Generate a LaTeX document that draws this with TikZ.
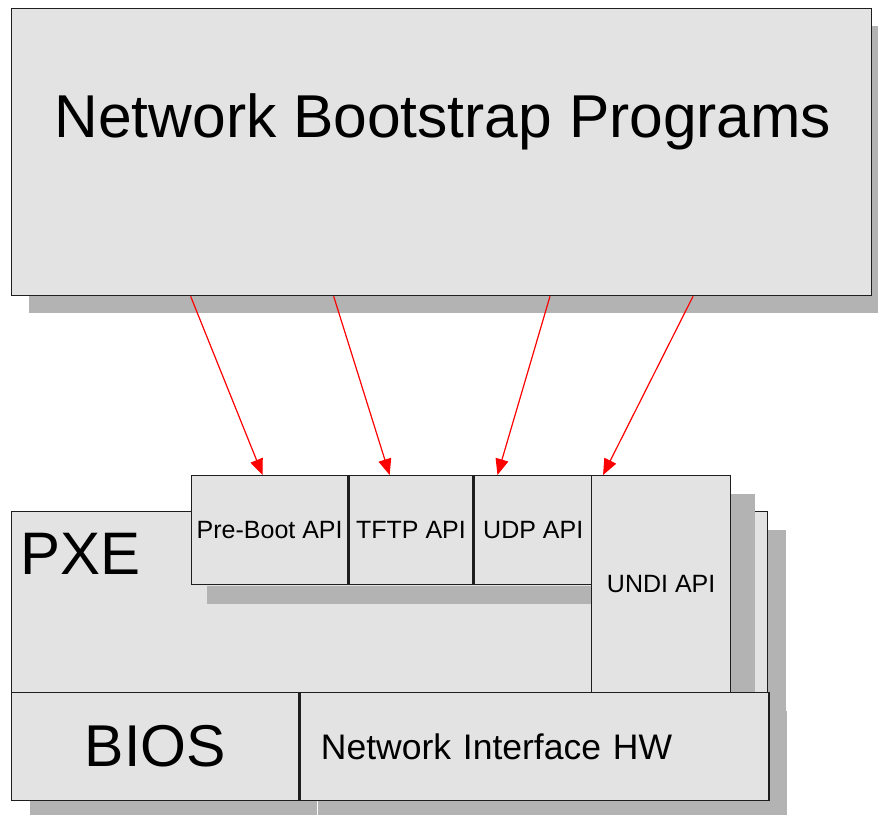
\documentclass[tikz,border=0pt]{standalone}
\usepackage{fontspec}
\setmainfont{Liberation Sans}
\usetikzlibrary{arrows.meta,calc,shadows}
\definecolor{boxfill}{HTML}{E3E3E3}
\definecolor{shadowgray}{HTML}{B3B3B3}
\definecolor{boxline}{HTML}{1E1E1E}
\begin{document}
\begin{tikzpicture}[x=1pt, y=-1pt, >={Triangle[length=16pt,width=13pt]},
  layer/.style={rectangle, draw=boxline, line width=1.3pt, fill=boxfill, inner sep=0pt, anchor=north west},
  shadowed/.style={drop shadow={shadow xshift=#1, shadow yshift=-18pt, fill=shadowgray, opacity=1}},
  shadowed/.default=18pt,
  api/.style={layer, minimum height=109pt, font=\fontsize{25}{28}\selectfont},
  call/.style={->, red, line width=1.2pt}]
\fill[white] (0,0) rectangle (878,814);
\useasboundingbox (0,0) rectangle (878,814);
% Bootstrap programs on top
\node[layer, shadowed, line width=1.8pt, minimum width=860pt, minimum height=287pt] (nbp) at (10.5,7.5) {};
\node[anchor=base, font=\fontsize{60.5}{70}\selectfont] (title) at (443,137) {Network Bootstrap Programs};
% PXE layer
\node[layer, shadowed, minimum width=756pt, minimum height=181pt] (pxe) at (11,511) {};
\node[anchor=base west, inner sep=0pt, font=\fontsize{60}{70}\selectfont] (pxelbl) at (20,574) {PXE};
% APIs
\node[api, minimum width=156pt] (preboot) at (191,475) {Pre-Boot API};
\node[api, minimum width=124pt] (tftp) at (preboot.north east) {TFTP API};
\node[api, minimum width=118pt] (udp) at (tftp.north east) {UDP API};
\fill[shadowgray] ($(preboot.south west)+(16,0.7)$) rectangle ($(udp.south east)+(16,19)$);
\node[api, shadowed=24pt, minimum width=139pt, minimum height=217pt] (undi) at (591,475) {UNDI API};
% BIOS and hardware
\node[layer, shadowed, minimum width=287pt, minimum height=108pt, font=\fontsize{59}{70}\selectfont] (bios) at (11,692) {BIOS};
\node[layer, shadowed, minimum height=108pt, text width=427pt, inner xsep=21pt, align=left,
  font=\fontsize{35.5}{42}\selectfont] (nihw) at (bios.north east) {Network Interface HW};
% Calls into the APIs
\draw[call] ($(nbp.south west)!0.209!(nbp.south east)$) -- ($(preboot.north west)!0.455!(preboot.north east)$);
\draw[call] ($(nbp.south west)!0.375!(nbp.south east)$) -- ($(tftp.north west)!0.33!(tftp.north east)$);
\draw[call] ($(nbp.south west)!0.626!(nbp.south east)$) -- ($(udp.north west)!0.20!(udp.north east)$);
\draw[call] ($(nbp.south west)!0.792!(nbp.south east)$) -- ($(undi.north west)!0.086!(undi.north east)$);
\end{tikzpicture}
\end{document}
